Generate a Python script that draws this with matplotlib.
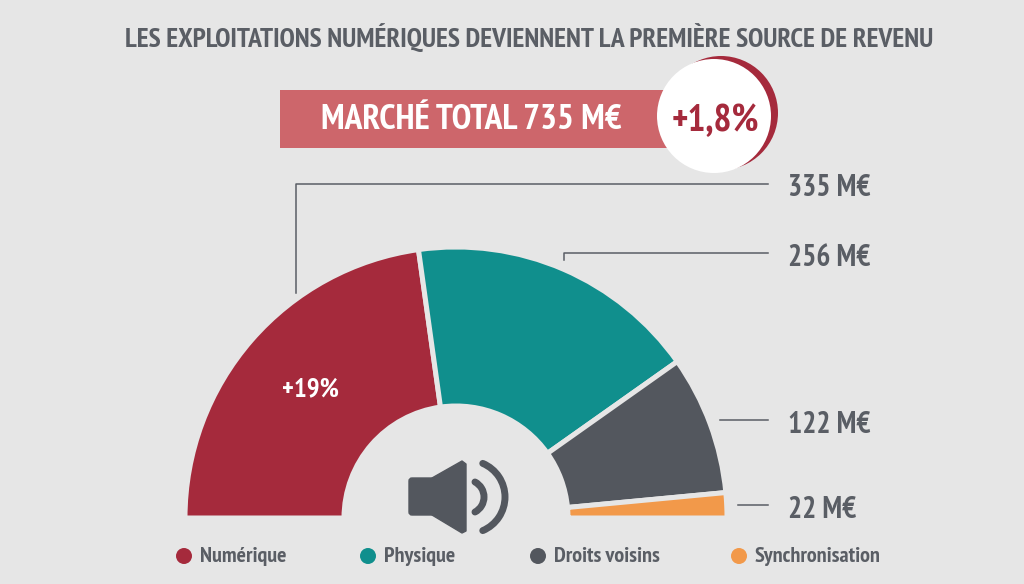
import matplotlib
matplotlib.use("Agg")
import matplotlib.pyplot as plt
from matplotlib.patches import Wedge, Circle, Rectangle, Polygon, Arc, FancyBboxPatch
from matplotlib import font_manager as fm

categories = ["Numérique", "Physique", "Droits voisins", "Synchronisation"]
values = [335, 256, 122, 22]
value_labels = ["335 M€", "256 M€", "122 M€", "22 M€"]
colors = ["#A52A3C", "#108F8D", "#53575E", "#F2994A"]
title = "LES EXPLOITATIONS NUMÉRIQUES DEVIENNENT LA PREMIÈRE SOURCE DE REVENU"
total_label = "MARCHÉ TOTAL 735 M€"
growth_label = "+1,8%"
num_growth = "+19%"

bg = "#E6E6E6"
grey = "#5A5E65"

# condensed face if there is one, otherwise Liberation Sans at a smaller size
names = {f.name for f in fm.fontManager.ttflist}
if "PT Sans Narrow" in names:
    narrow, k = "PT Sans Narrow", 1.0
else:
    narrow, k = "Liberation Sans", 0.7

fig = plt.figure(figsize=(10.24, 5.84), dpi=100, facecolor=bg)
ax = fig.add_axes([0, 0, 1, 1])
ax.set_xlim(0, 1024)
ax.set_ylim(0, 584)
ax.axis("off")

def Y(y):
    return 584 - y

def label(x, y, s, size, color=grey, ha="left"):
    ax.text(x, Y(y), s, family=narrow, weight="bold", size=size * k, color=color, ha=ha, va="center")

# half donut, the 735 total covers 180 degrees
cx, cy, r_out, r_in = 456, Y(518), 271, 112
ang = 180
for v, c in zip(values, colors):
    a2 = ang - v / sum(values) * 180
    ax.add_patch(Wedge((cx, cy), r_out, a2, ang, width=r_out - r_in, fc=c, ec=bg, lw=3.6))
    ang = a2

# header
label(529, 38, title, 19.8, ha="center")
ax.add_patch(Rectangle((280, Y(148)), 400, 58, fc="#CD666B", ec="none"))
label(471, 120, total_label, 25.5, color="white", ha="center")
ax.add_patch(Circle((721, Y(113)), 57, fc="#A52A3C", ec="none"))
ax.add_patch(Circle((714, Y(116)), 57, fc="white", ec="none"))
label(715, 122, growth_label, 27, color="#A52A3C", ha="center")

# leader lines
lw = 1.1
ax.plot([296, 296, 768], [Y(293), Y(184), Y(184)], color=grey, lw=lw)
ax.plot([564, 564, 768], [Y(260), Y(253), Y(253)], color=grey, lw=lw)
ax.plot([720, 768], [Y(420), Y(420)], color=grey, lw=lw)
ax.plot([738, 768], [Y(505), Y(505)], color=grey, lw=lw)
for lab, y in zip(value_labels, [188, 258, 425, 510]):
    label(788, y, lab, 21.3)

label(310, 389, num_growth, 19.3, color="white", ha="center")

# speaker icon
ink = colors[2]
ax.add_patch(FancyBboxPatch((409, Y(515)), 40, 37, boxstyle="round,pad=0,rounding_size=3", fc=ink, ec=ink, lw=1))
ax.add_patch(Polygon([(432, Y(478)), (462, Y(461)), (466, Y(464)), (466, Y(531)), (462, Y(533)), (432, Y(515))],
                     closed=True, fc=ink, ec=ink, lw=1, joinstyle="round"))
ax.add_patch(Arc((467, Y(497)), 34, 34, theta1=-62, theta2=62, color=ink, lw=5, capstyle="round"))
ax.add_patch(Arc((468.5, Y(497)), 73, 73, theta1=-67, theta2=67, color=ink, lw=5, capstyle="round"))

# legend
for x, tx, c, lab in zip([184, 368, 538, 739], [200, 384, 554, 755], colors, categories):
    ax.add_patch(Circle((x, Y(556)), 8, fc=c, ec="none"))
    label(tx, 557, lab, 15.9)

fig.savefig("out.png", dpi=100, facecolor=bg)
